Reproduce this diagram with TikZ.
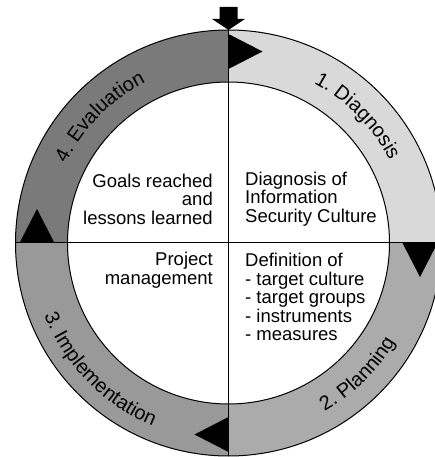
\documentclass[tikz,border=0pt]{standalone}
\usepackage{fontspec}
\setmainfont{Liberation Sans}
\usetikzlibrary{decorations.text}
\tikzset{
	sector/.style={line width=1pt},
	phase/.style={
			decorate,
			decoration={text along path, text align=center,
					text={|\fontsize{20}{20}\selectfont|#1}}
		},
	memo/.style={inner sep=0pt, font=\fontsize{18.5}{18.5}\selectfont}
}

\begin{document}
\begin{tikzpicture}[x=1pt, y=1pt]
			\useasboundingbox (-228.5,-214) rectangle (206.5,243);
			\clip (-228.5,-214) rectangle (206.5,243);

			\path [fill=black!15] (90:213) arc[start angle=90, end angle=0, radius=213]
				-- (0:161) arc[start angle=0, end angle=90, radius=161] -- cycle;
			\path [fill=black!33] (0:213) arc[start angle=0, end angle=-90, radius=213]
				-- (-90:161) arc[start angle=-90, end angle=0, radius=161] -- cycle;
			\path [fill=black!40] (-90:213) arc[start angle=-90, end angle=-180, radius=213]
				-- (180:161) arc[start angle=180, end angle=270, radius=161] -- cycle;
			\path [fill=black!52] (180:213) arc[start angle=180, end angle=90, radius=213]
				-- (90:161) arc[start angle=90, end angle=180, radius=161] -- cycle;

			\draw [sector] (0,0) circle[radius=213];
			\draw [sector] (0,0) circle[radius=161];
			\draw [sector] (90:213) -- (-90:213);
			\draw [sector] (180:213) -- (0:213);

			\foreach \a in {90,0,-90,180}
				\fill [rotate=\a] (0:174) -- (0:209) -- (191.5,-34) -- cycle;

			\path [phase={1. Diagnosis}] (89.5:181) arc[start angle=89.5, end angle=-0.5, radius=181];
			\path [phase={4. Evaluation}] (180.5:181) arc[start angle=180.5, end angle=90.5, radius=181];
			\path [phase={2. Planning}] (-90.5:194) arc[start angle=-90.5, end angle=-0.5, radius=194];
			\path [phase={3. Implementation}] (179.5:198) arc[start angle=179.5, end angle=269.5, radius=198];

			\node [memo, anchor=east, align=right] (goals) at (-15.5,44)
				{Goals reached\\and\\lessons learned};
			\node [memo, anchor=west, align=left] (diagnosis) at (16.5,44)
				{Diagnosis of\\Information\\Security Culture};
			\node [memo, anchor=east, align=right] (project) at (-15.5,-27)
				{Project\\management};
			\node [memo, anchor=west, align=left] (definition) at (16.5,-54)
				{Definition of\\- target culture\\- target groups\\- instruments\\- measures};

			\coordinate (start) at (90:213);
			\fill (start) -- ++(-16.5,11) -- ++(7.5,0) -- ++(0,12)
				-- ++(18,0) -- ++(0,-12) -- ++(7.5,0) -- cycle;
		\end{tikzpicture}
\end{document}
